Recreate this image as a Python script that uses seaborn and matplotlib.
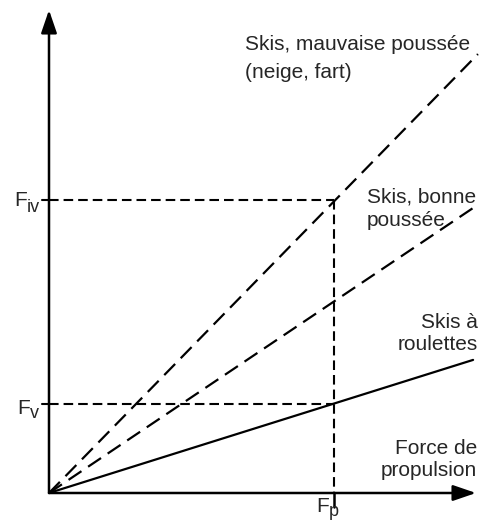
import pandas as pd
import matplotlib.pyplot as plt
import seaborn as sns

sns.set_style('white')
plt.rcParams['font.family'] = ['Liberation Sans', 'DejaVu Sans']

# données (unités arbitraires, Fp = 1)
modes = ['mauvaise', 'bonne', 'roulettes']
x_fin = [1.505, 1.488, 1.488]
y_fin = [1.54, 1.0, 0.467]
Fp = 1.0
Fiv = 1.028
Fv = 0.312

rows = []
for m, xe, ye in zip(modes, x_fin, y_fin):
    rows.append({'force': 0.0, 'resist': 0.0, 'mode': m})
    rows.append({'force': xe, 'resist': ye, 'mode': m})
df = pd.DataFrame(rows)

# pixels -> données
def px(x):
    return (x - 49) / 285

def py(y):
    return (493 - y) / 285

fig = plt.figure(figsize=(4.97, 5.23), dpi=100)
ax = fig.add_axes([0, 0, 1, 1])

sns.lineplot(data=df, x='force', y='resist', hue='mode', style='mode',
             palette={m: 'black' for m in modes},
             dashes={'mauvaise': (7, 3.6), 'bonne': (7, 3.6), 'roulettes': ''},
             linewidth=1.6, legend=False, ax=ax, estimator=None)

# lignes de rappel
k = dict(color='black', lw=1.5, dashes=(4.6, 2.4))
ax.plot([0, Fp], [Fiv, Fiv], **k)
ax.plot([0, Fp], [Fv, Fv], **k)
ax.plot([Fp, Fp], [Fiv, 0], **k)

# axes avec flèches
arr = dict(arrowstyle='-|>,head_length=0.7,head_width=0.24', color='black',
           lw=1.8, mutation_scale=20, shrinkA=0, shrinkB=0)
ax.annotate('', xy=(0, py(10)), xytext=(0, 0), arrowprops=arr)
ax.annotate('', xy=(px(476), 0), xytext=(0, 0), arrowprops=arr)

# graduations
ax.plot([px(42), 0], [Fiv, Fiv], color='black', lw=1.5)
ax.plot([px(42), 0], [Fv, Fv], color='black', lw=1.5)
ax.plot([Fp, Fp], [0, py(507)], color='black', lw=1.8)

fs = 15
sub = 13
ax.text(px(27), py(201), 'F', ha='right', va='center', fontsize=fs)
ax.text(px(27), py(208), 'iv', ha='left', va='center', fontsize=sub)
ax.text(px(30), py(408), 'F', ha='right', va='center', fontsize=fs)
ax.text(px(30), py(414), 'v', ha='left', va='center', fontsize=sub)
ax.text(px(329), py(506), 'F', ha='right', va='center', fontsize=fs)
ax.text(px(329), py(511), 'p', ha='left', va='center', fontsize=sub)

ax.text(px(245), py(45), 'Skis, mauvaise poussée', ha='left', va='center', fontsize=fs)
ax.text(px(245), py(72), '(neige, fart)', ha='left', va='center', fontsize=fs)
ax.text(px(367), py(197), 'Skis, bonne', ha='left', va='center', fontsize=fs)
ax.text(px(367), py(220), 'poussée', ha='left', va='center', fontsize=fs)
ax.text(px(478), py(322), 'Skis à', ha='right', va='center', fontsize=fs)
ax.text(px(478), py(345), 'roulettes', ha='right', va='center', fontsize=fs)
ax.text(px(477), py(448), 'Force de', ha='right', va='center', fontsize=fs)
ax.text(px(477), py(470), 'propulsion', ha='right', va='center', fontsize=fs)

ax.set_xlim(px(0), px(497))
ax.set_ylim(py(523), py(0))
ax.axis('off')

fig.savefig('out.png', dpi=100)
